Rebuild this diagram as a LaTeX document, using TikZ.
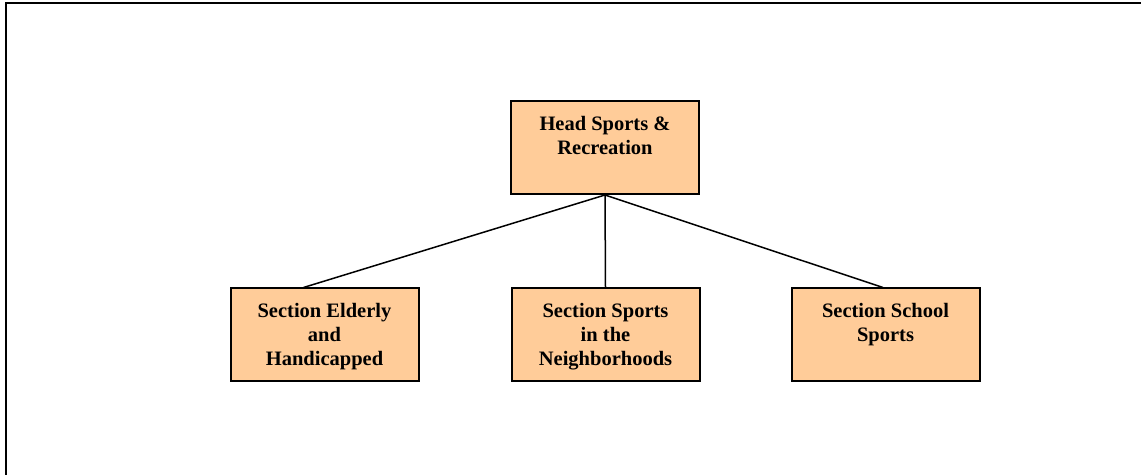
\documentclass[tikz,border=0pt]{standalone}
\usepackage{fontspec}
\setmainfont{Liberation Serif}
\definecolor{peach}{RGB}{255,204,153}
\newcommand{\bx}[1]{\parbox[c][46.5pt][t]{94pt}{\centering\vspace*{7.5pt}#1}}

\begin{document}
\begin{tikzpicture}[x=0.5pt,y=-0.5pt,
    unit/.style={draw=black,line width=1pt,fill=peach,inner sep=0pt,
                 minimum width=94pt,minimum height=46.5pt,
                 font=\fontsize{10.25}{12}\selectfont\bfseries}]
   \useasboundingbox (0,0) rectangle (1141,475);
   \draw[line width=1pt] (6,475) -- (6,3) -- (1141,3);
   % boxes
   \node[unit] (head)   at (605,147.5) {\bx{Head Sports \&\\Recreation}};
   \node[unit] (elder)  at (324.5,335) {\bx{Section Elderly\\and\\Handicapped}};
   \node[unit] (neigh)  at (605.5,335) {\bx{Section Sports\\in the\\Neighborhoods}};
   \node[unit] (school) at (885.5,335) {\bx{Section School\\Sports}};
   % lines
   \draw[line width=0.75pt] (head.south) -- ([xshift=-10.5pt]elder.north);
   \draw[line width=0.75pt] (head.south) -- (neigh.north);
   \draw[line width=0.75pt] (head.south) -- ([xshift=-1.25pt]school.north);
\end{tikzpicture}
\end{document}
